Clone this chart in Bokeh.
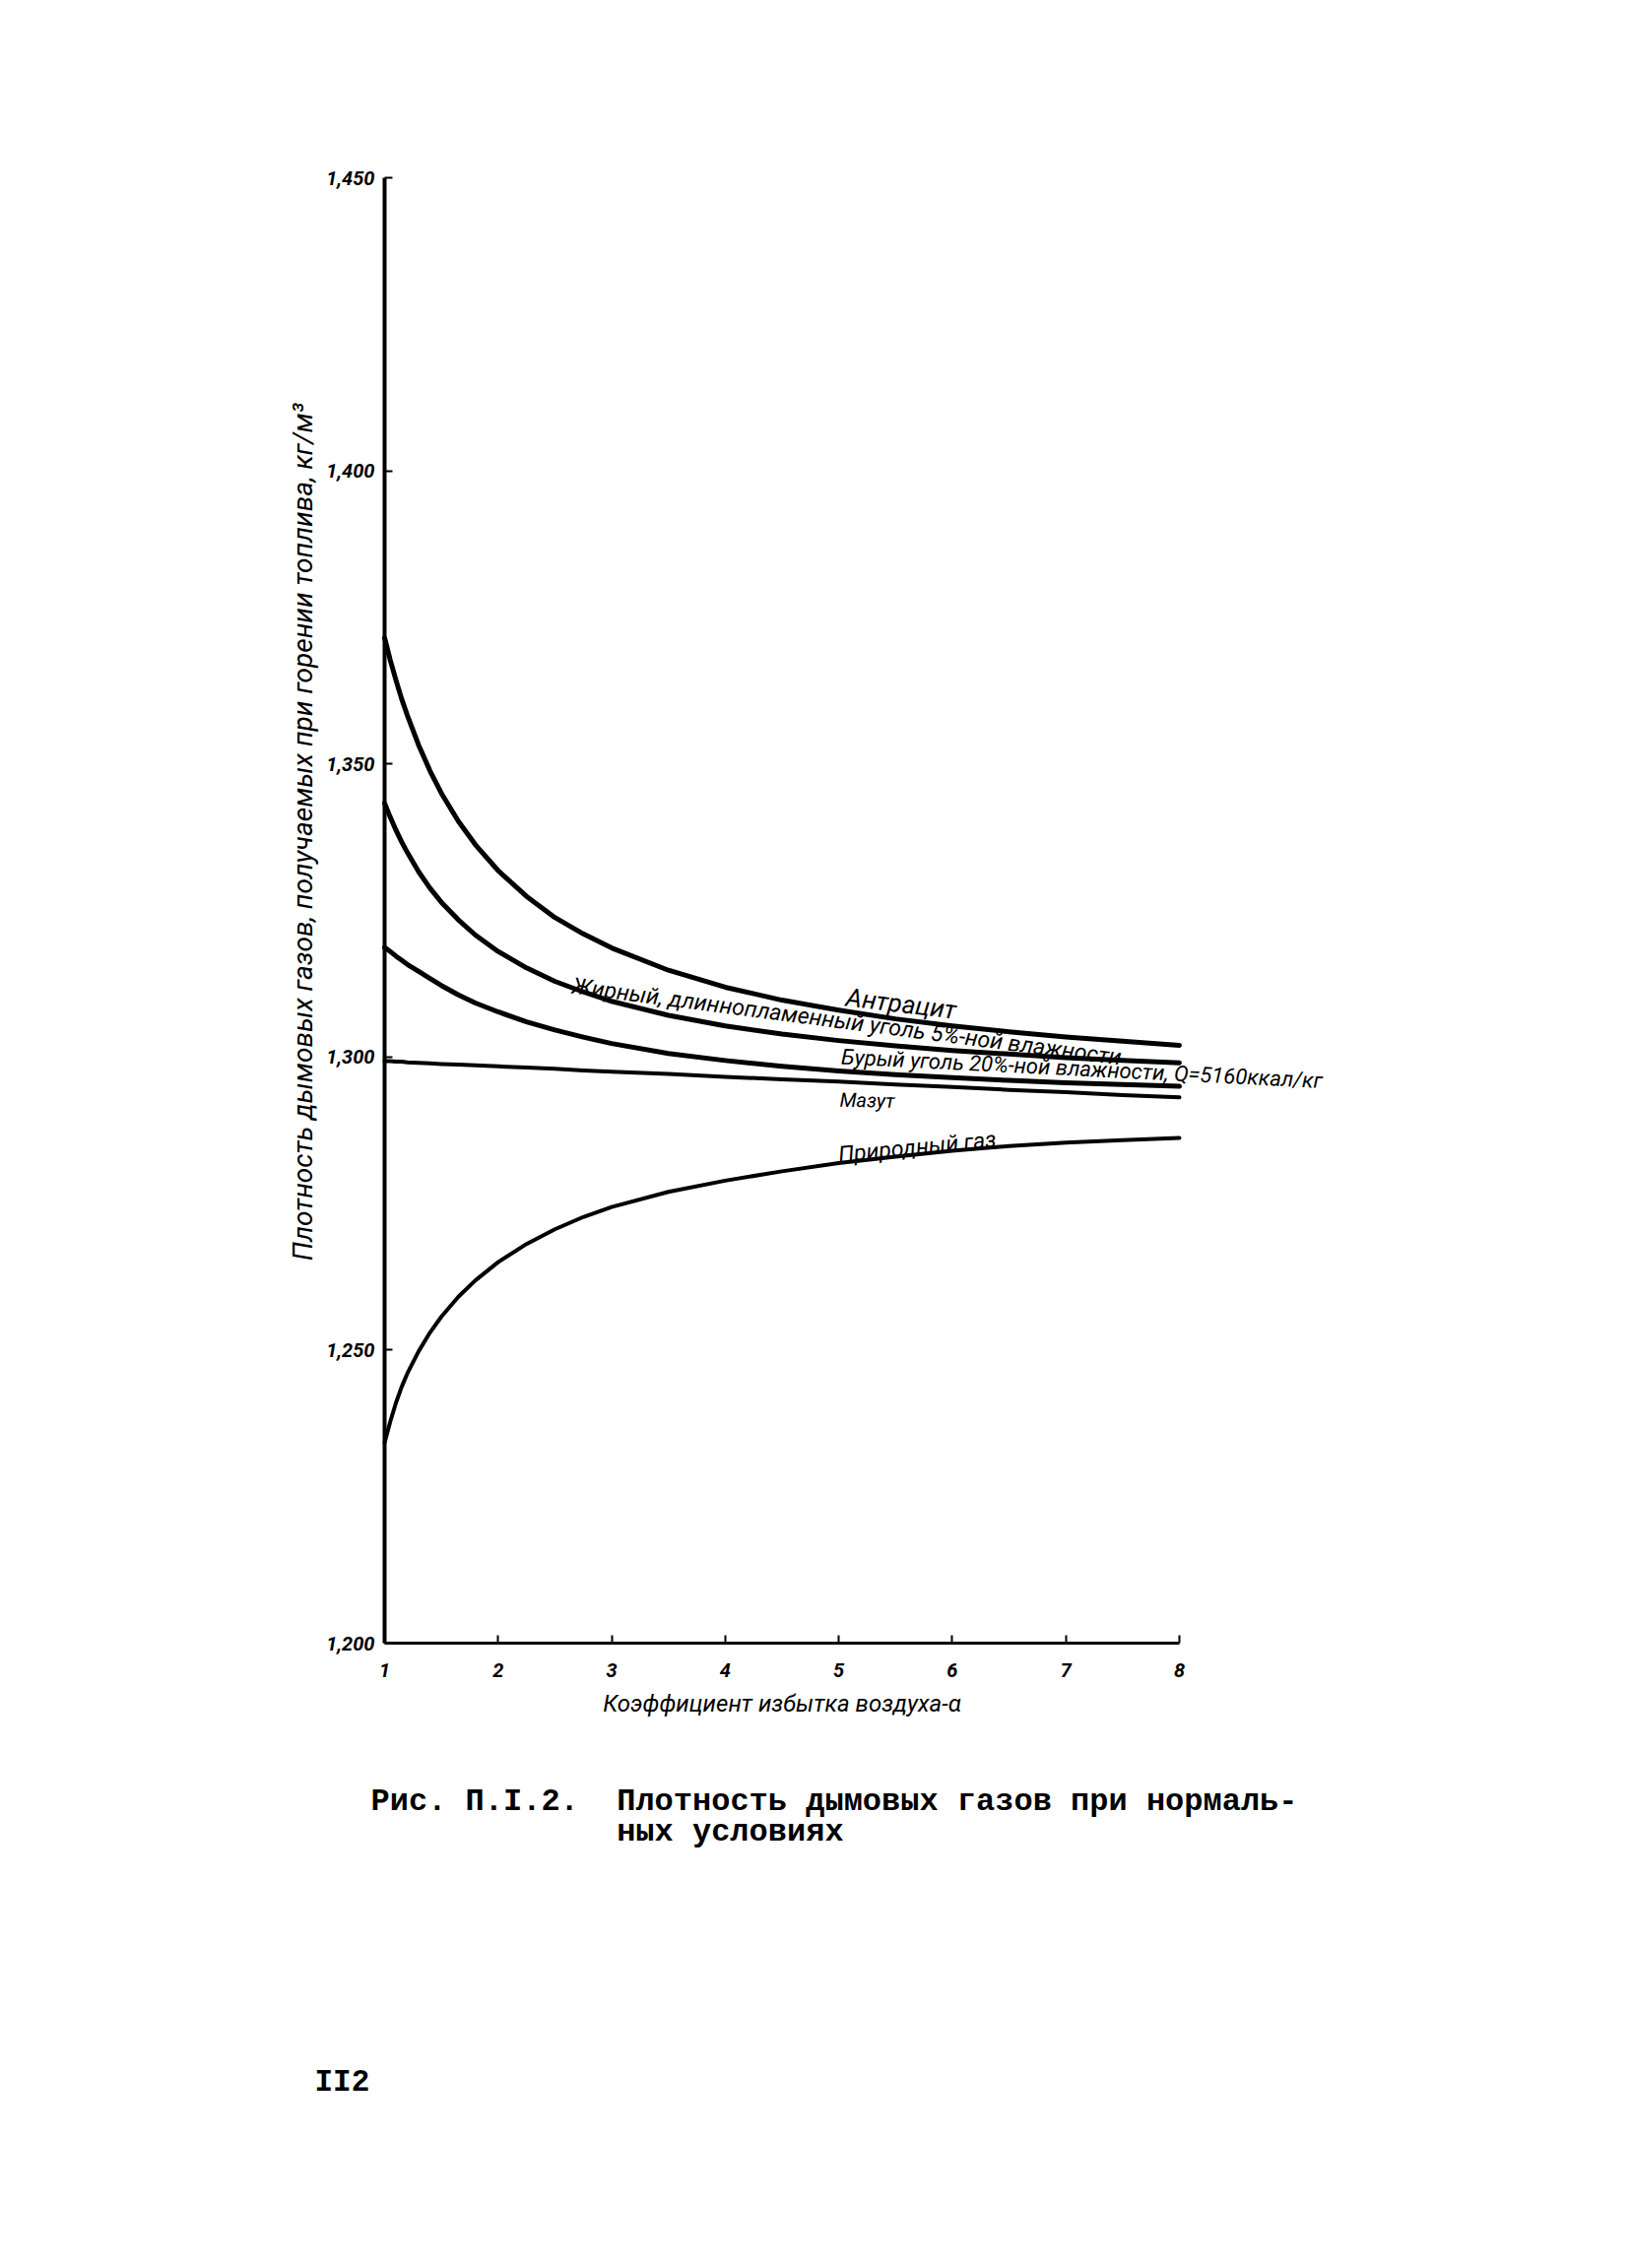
import math
from bokeh.plotting import figure
from bokeh.models import Range1d, FixedTicker, Label, LinearAxis
from bokeh.embed import file_html
from bokeh.resources import INLINE

# ---- data ----
alpha = [1, 1.05, 1.1, 1.15, 1.2, 1.3, 1.4, 1.5, 1.65, 1.8, 2, 2.25, 2.5,
         2.75, 3, 3.5, 4, 4.5, 5, 5.5, 6, 6.5, 7, 7.5, 8]
antracit = [1.3715, 1.3677, 1.3643, 1.3611, 1.3583, 1.3532, 1.3488, 1.3450,
            1.3402, 1.3362, 1.3318, 1.3274, 1.3238, 1.3210, 1.3186, 1.3148,
            1.3119, 1.3097, 1.3080, 1.3065, 1.3053, 1.3043, 1.3034, 1.3027,
            1.3020]
zhirny = [1.3433, 1.3409, 1.3387, 1.3367, 1.3349, 1.3316, 1.3288, 1.3264,
          1.3234, 1.3208, 1.3180, 1.3152, 1.3129, 1.3111, 1.3095, 1.3071,
          1.3053, 1.3039, 1.3028, 1.3019, 1.3011, 1.3005, 1.2999, 1.2994,
          1.2990]
bury = [1.3187, 1.3180, 1.3172, 1.3165, 1.3158, 1.3146, 1.3134, 1.3122,
        1.3106, 1.3092, 1.3077, 1.3060, 1.3046, 1.3034, 1.3023, 1.3006,
        1.2994, 1.2984, 1.2976, 1.2970, 1.2965, 1.2960, 1.2956, 1.2953,
        1.2950]
mazut = [1.2993, 1.2993, 1.2992, 1.2992, 1.2991, 1.2990, 1.2989, 1.2988,
         1.2987, 1.2986, 1.2984, 1.2982, 1.2980, 1.2977, 1.2975, 1.2971,
         1.2966, 1.2962, 1.2958, 1.2953, 1.2949, 1.2944, 1.2940, 1.2935,
         1.2931]
gas = [1.2342, 1.2378, 1.2410, 1.2437, 1.2460, 1.2498, 1.2530, 1.2557,
       1.2591, 1.2619, 1.2650, 1.2681, 1.2706, 1.2727, 1.2744, 1.2770,
       1.2789, 1.2805, 1.2819, 1.2830, 1.2840, 1.2848, 1.2854, 1.2858,
       1.2862]

x_ticks = [1, 2, 3, 4, 5, 6, 7, 8]
y_ticks = [1.200, 1.250, 1.300, 1.350, 1.400, 1.450]
y_tick_labels = ["1,200", "1,250", "1,300", "1,350", "1,400", "1,450"]

series_names = ["Антрацит",
                "Жирный, длиннопламенный уголь 5%-ной влажности",
                "Бурый уголь 20%-ной влажности, Q=5160ккал/кг",
                "Мазут",
                "Природный газ"]

x_title = "Коэффициент избытка воздуха-α"
y_title = "Плотность дымовых газов, получаемых при горении топлива, кг/м³"
caption1 = "Рис. П.I.2.\u00a0\u00a0Плотность дымовых газов при нормаль-"
caption2 = "ных условиях"
page_no = "II2"

# ---- page geometry: the frame covers the whole page, the axes are
# placed at fixed data locations and bounded to the data extent ----
W, H = 1638, 2287
AX_L, AX_R = 390, 1197          # pixel columns of alpha = 1 and alpha = 8
AX_T, AX_B = 180, 1668          # pixel rows of 1.450 and 1.200
xu = (AX_R - AX_L) / (x_ticks[-1] - x_ticks[0])
yu = (AX_B - AX_T) / (y_ticks[-1] - y_ticks[0])
x_rng = Range1d(x_ticks[0] - AX_L / xu, x_ticks[-1] + (W - AX_R) / xu)
y_rng = Range1d(y_ticks[0] - (H - AX_B) / yu, y_ticks[-1] + AX_T / yu)

p = figure(width=W, height=H, output_backend="svg", toolbar_location=None,
           x_range=x_rng, y_range=y_rng, min_border=0,
           x_axis_location=None, y_axis_location=None)
p.outline_line_color = None
p.grid.visible = False
p.background_fill_color = "white"
p.border_fill_color = "white"

HAND = "Roboto"

yax = LinearAxis(fixed_location=x_ticks[0], bounds=(y_ticks[0], y_ticks[-1]),
                 ticker=FixedTicker(ticks=y_ticks),
                 major_label_overrides=dict(zip(y_ticks, y_tick_labels)))
xax = LinearAxis(fixed_location=y_ticks[0], bounds=(x_ticks[0], x_ticks[-1]),
                 ticker=FixedTicker(ticks=x_ticks))
for ax in (xax, yax):
    ax.axis_line_color = "black"
    ax.major_tick_line_color = "black"
    ax.major_tick_line_width = 2
    ax.major_tick_in = 8
    ax.major_tick_out = 0
    ax.minor_tick_line_color = None
    ax.major_label_text_font = HAND
    ax.major_label_text_font_style = "bold italic"
    ax.major_label_text_font_size = "20px"
    ax.major_label_text_color = "black"
yax.axis_line_width = 4
yax.major_label_standoff = 10
xax.axis_line_width = 3
xax.major_label_standoff = 20
xax.axis_label = x_title
xax.axis_label_text_font = HAND
xax.axis_label_text_font_style = "italic"
xax.axis_label_text_font_size = "24px"
xax.axis_label_standoff = 10
xax.axis_label_text_color = "black"
p.add_layout(yax, "left")
p.add_layout(xax, "below")

# curves
for ys, lw in ((antracit, 5), (zhirny, 5), (bury, 5), (mazut, 4), (gas, 4)):
    p.line(alpha, ys, line_color="black", line_width=lw, line_cap="round",
           line_join="round")

def lab(x, y, text, size, angle=0.0, align="center", font=HAND,
        style="italic", baseline="middle"):
    p.add_layout(Label(x=x, y=y, text=text, angle=angle,
                       text_font=font, text_font_size=size,
                       text_font_style=style, text_align=align,
                       text_baseline=baseline, text_color="black"))

# curve labels
lab(5.55, 1.3091, series_names[0], "26px", angle=-0.12)
lab(5.07, 1.3060, series_names[1], "23px", angle=-0.13)
lab(7.14, 1.2980, series_names[2], "22px", angle=-0.05)
lab(5.25, 1.2926, series_names[3], "20px", angle=-0.02)
lab(5.69, 1.2846, series_names[4], "23px", angle=0.10)

# y axis title
lab(0.280, 1.3384, y_title, "28px", angle=math.pi / 2)

# caption and page number
lab(0.879, 1.1730, caption1, "32px", align="left", font="Liberation Mono",
    style="bold")
lab(3.044, 1.1677, caption2, "32px", align="left", font="Liberation Mono",
    style="bold")
lab(0.384, 1.1250, page_no, "31px", align="left", font="Liberation Mono",
    style="bold")

open("out.html", "w").write(file_html(p, INLINE))
